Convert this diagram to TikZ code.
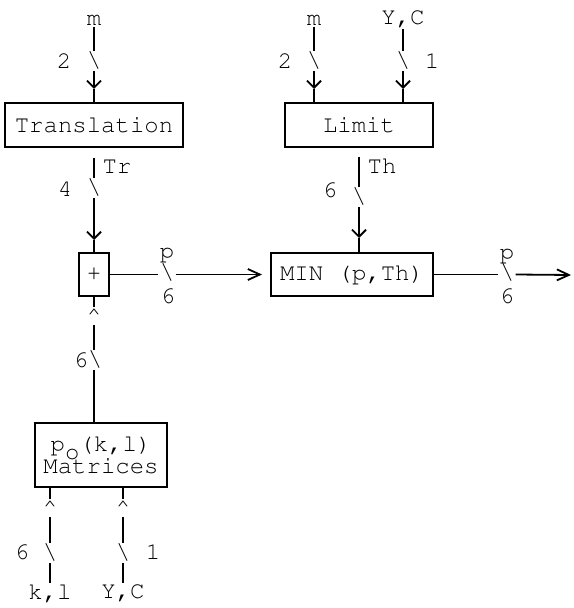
\documentclass[tikz,border=0pt]{standalone}
\usetikzlibrary{arrows.meta}
\newcommand\crfont{\fontencoding{T1}\fontfamily{pcr}\selectfont}

\tikzset{
  blk/.style={draw, line width=1pt, inner sep=0pt, font=\crfont\fontsize{12}{14}\selectfont},
  lbl/.style={inner sep=0.5pt, font=\crfont\fontsize{12}{14}\selectfont},
  bus/.style={lbl},
  hat/.style={inner sep=0.5pt, anchor=north, font=\crfont\fontsize{12}{14}\selectfont},
  wire/.style={line width=0.9pt},
  down/.style={wire, -{Straight Barb[length=3.5pt,width=7pt]}},
  tip/.style={wire, -{Straight Barb[length=6pt,width=5.5pt]}},
  into/.style={tip, shorten >=4pt}
}

\begin{document}
\begin{tikzpicture}[x=0.5pt, y=-0.5pt]
  \useasboundingbox (0,0) rectangle (573,608);

  % blocks
  \node[blk, minimum width=89pt, minimum height=22pt] (tr) at (94,125) {Translation};
  \node[blk, minimum width=74pt, minimum height=22pt] (lim) at (359,125) {Limit};
  \node[blk, minimum width=15pt, minimum height=21.5pt] (sum) at (94,274.5) {+};
  \node[blk, minimum width=81pt, minimum height=21.5pt] (mn) at (352,274.5) {MIN (p,Th)};
  \node[blk, minimum width=66pt, minimum height=32pt, align=center] (mat) at (101,455)
    {p\raisebox{-0.33em}[0pt][0pt]{o}(k,l)\\[-3pt]Matrices};

  % inputs and outputs
  \node[lbl] (m1) at (94,20) {m};
  \node[lbl] (m2) at (314,20) {m};
  \node[lbl] (yc1) at (403,19) {Y,C};
  \node[lbl] (kl) at (50,593) {k,l};
  \node[lbl] (yc2) at (123,593) {Y,C};
  \coordinate (out) at (571,275);

  % bus marks
  \node[bus] (b1) at (94,61) {\textbackslash};
  \node[bus] (b2) at (314,61) {\textbackslash};
  \node[bus] (b3) at (403,61) {\textbackslash};
  \node[bus] (b4) at (94,188) {\textbackslash};
  \node[bus] (b5) at (359,197) {\textbackslash};
  \node[bus] (b6) at (167,273) {\textbackslash};
  \node[bus] (b7) at (507,273) {\textbackslash};
  \node[bus] (b8) at (95,360) {\textbackslash};
  \node[bus] (b9) at (50,553) {\textbackslash};
  \node[bus] (b10) at (123,553) {\textbackslash};

  % bus widths and signal names
  \node[lbl] (w1) at (64,61) {2};
  \node[lbl] (w2) at (285,61) {2};
  \node[lbl] (w3) at (432,61) {1};
  \node[lbl] (w4) at (65,189) {4};
  \node[lbl] (w5) at (330,190) {6};
  \node[lbl] (w6) at (168,296) {6};
  \node[lbl] (w7) at (507,296) {6};
  \node[lbl] (w8) at (81,360) {6};
  \node[lbl] (w9) at (22,552) {6};
  \node[lbl] (w10) at (153,552) {1};
  \node[lbl] (sTr) at (117,167) {Tr};
  \node[lbl] (sTh) at (382,166) {Th};
  \node[lbl] (sp1) at (167,255) {p};
  \node[lbl] (sp2) at (507,256) {p};

  % carets
  \node[hat] (c1) at (94,307) {\textasciicircum};
  \node[hat] (c2) at (50,499) {\textasciicircum};
  \node[hat] (c3) at (123,499) {\textasciicircum};

  % arrow points
  \coordinate (a1) at (94,89);
  \coordinate (a2) at (314,89);
  \coordinate (a3) at (403,89);
  \coordinate (a4) at (94,240);
  \coordinate (a5) at (359,238);

  % into Translation and Limit
  \draw[wire] (m1) -- (b1);
  \draw[down] (b1) -- (a1);
  \draw[wire] (a1) -- (tr);
  \draw[wire] (m2) -- (b2);
  \draw[down] (b2) -- (a2);
  \draw[wire] (a2) -- (a2 |- lim.north);
  \draw[wire] (yc1) -- (b3);
  \draw[down] (b3) -- (a3);
  \draw[wire] (a3) -- (a3 |- lim.north);

  % Tr and Th
  \draw[wire, shorten <=5pt] (tr) -- (b4);
  \draw[down] (b4) -- (a4);
  \draw[wire] (a4) -- (sum);
  \draw[wire, shorten <=4.5pt] (lim) -- (b5);
  \draw[down] (b5) -- (a5);
  \draw[wire] (a5) -- (a5 |- mn.north);

  % p
  \draw[wire] (sum) -- (sum -| b6.west);
  \draw[into] (b6.east |- sum) -- (mn);
  \draw[wire] (mn) -- (mn -| b7.west);
  \draw[tip] (b7.east |- mn) -- (out);

  % Matrices
  \draw[wire] (sum) -- (c1);
  \draw[wire] (c1 |- b8.north) -- (c1);
  \draw[wire] (c1 |- b8.south) -- (c1 |- mat.north);
  \draw[wire] (kl) -- (b9);
  \draw[wire] (b9) -- (c2);
  \draw[wire] (c2) -- (c2 |- mat.south);
  \draw[wire] (yc2) -- (b10);
  \draw[wire] (b10) -- (c3);
  \draw[wire] (c3) -- (c3 |- mat.south);
\end{tikzpicture}
\end{document}
